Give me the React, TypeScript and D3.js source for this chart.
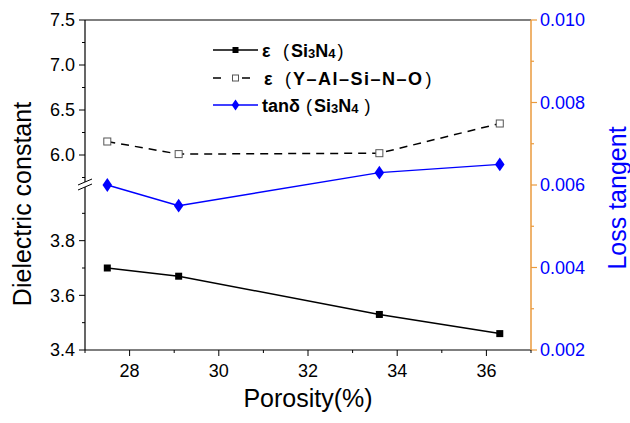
import { useEffect, useRef } from 'react';
import * as d3 from 'd3';

// Data
const porosity = [27.5, 29.1, 33.6, 36.3];
const epsSi3N4 = [3.70, 3.67, 3.53, 3.46];
const epsYAlSiNO = [6.15, 6.01, 6.02, 6.35];
const tanSi3N4 = [0.0060, 0.0055, 0.0063, 0.0065];

const xTicks = [28, 30, 32, 34, 36];
const xMinor = [27, 29, 31, 33, 35, 37];
const upperTicks = [6.0, 6.5, 7.0, 7.5];
const upperMinor = [5.75, 6.25, 6.75, 7.25];
const lowerTicks = [3.4, 3.6, 3.8];
const lowerMinor = [3.5, 3.7, 3.9];
const rightTicks = [0.002, 0.004, 0.006, 0.008, 0.010];
const rightMinor = [0.003, 0.005, 0.007, 0.009];

const FONT = 'Liberation Sans, Arial, sans-serif';
const BLUE = '#0000ff';
const ORANGE = '#ea9a3c';

const L = 85, R = 531, T = 20, B = 350;

type Piece = { s: string; sub?: boolean; thin?: boolean; x?: number; dx?: number; ls?: number };

export default function App() {
  const svgRef = useRef<SVGSVGElement>(null);

  useEffect(() => {
    document.body.style.margin = '0';
    if (!svgRef.current) return;
    const svg = d3.select(svgRef.current);
    svg.selectAll('*').remove();

    const x = d3.scaleLinear().domain([27, 37]).range([L, R]);
    // broken left axis: upper and lower segments
    const yUp = d3.scaleLinear().domain([5.7, 7.5]).range([182, T]);
    const yLow = d3.scaleLinear().domain([3.4, 4.0]).range([B, 186]);
    const yR = d3.scaleLinear().domain([0.002, 0.010]).range([B, T]);

    const g = svg.append('g');

    // ── Frame ────────────────────────────────────────────────────────────────
    g.append('line').attr('x1', L).attr('x2', R).attr('y1', T).attr('y2', T)
      .attr('stroke', '#000').attr('stroke-width', 1.2);
    g.append('line').attr('x1', L).attr('x2', R).attr('y1', B).attr('y2', B)
      .attr('stroke', '#000').attr('stroke-width', 1.2);
    g.append('line').attr('x1', L).attr('x2', L).attr('y1', T).attr('y2', 182)
      .attr('stroke', '#000').attr('stroke-width', 1.2);
    g.append('line').attr('x1', L).attr('x2', L).attr('y1', 187).attr('y2', B)
      .attr('stroke', '#000').attr('stroke-width', 1.2);
    g.append('line').attr('x1', R).attr('x2', R).attr('y1', T).attr('y2', B)
      .attr('stroke', ORANGE).attr('stroke-width', 1.5);

    // break marks
    [0, 5].forEach(dy => {
      g.append('line').attr('x1', L - 7).attr('y1', 185 + dy).attr('x2', L + 7).attr('y2', 179 + dy)
        .attr('stroke', '#000').attr('stroke-width', 1);
    });

    // ── Left ticks ──────────────────────────────────────────────────────────
    const leftTick = (y: number, len: number) =>
      g.append('line').attr('x1', L - len).attr('x2', L).attr('y1', y).attr('y2', y)
        .attr('stroke', '#000').attr('stroke-width', 1);
    const leftLabel = (y: number, v: number) =>
      g.append('text').attr('x', L - 10).attr('y', y).attr('dy', '0.35em')
        .attr('text-anchor', 'end').attr('font-family', FONT).attr('font-size', 18)
        .attr('fill', '#000').text(d3.format('.1f')(v));

    upperTicks.forEach(v => { leftTick(yUp(v), 6); leftLabel(yUp(v), v); });
    upperMinor.forEach(v => leftTick(yUp(v), 3));
    lowerTicks.forEach(v => { leftTick(yLow(v), 6); leftLabel(yLow(v), v); });
    lowerMinor.forEach(v => leftTick(yLow(v), 3));

    // ── Right ticks ─────────────────────────────────────────────────────────
    rightTicks.forEach(v => {
      g.append('line').attr('x1', R).attr('x2', R + 6).attr('y1', yR(v)).attr('y2', yR(v))
        .attr('stroke', ORANGE).attr('stroke-width', 1.2);
      g.append('text').attr('x', R + 9).attr('y', yR(v)).attr('dy', '0.35em')
        .attr('font-family', FONT).attr('font-size', 18).attr('fill', BLUE)
        .text(d3.format('.3f')(v));
    });
    rightMinor.forEach(v => {
      g.append('line').attr('x1', R).attr('x2', R + 3).attr('y1', yR(v)).attr('y2', yR(v))
        .attr('stroke', ORANGE).attr('stroke-width', 1.2);
    });

    // ── Bottom ticks ────────────────────────────────────────────────────────
    xTicks.forEach(v => {
      g.append('line').attr('x1', x(v)).attr('x2', x(v)).attr('y1', B).attr('y2', B + 6)
        .attr('stroke', '#000').attr('stroke-width', 1);
      g.append('text').attr('x', x(v)).attr('y', B + 21).attr('dy', '0.35em')
        .attr('text-anchor', 'middle').attr('font-family', FONT).attr('font-size', 18)
        .attr('fill', '#000').text(v);
    });
    xMinor.forEach(v => {
      g.append('line').attr('x1', x(v)).attr('x2', x(v)).attr('y1', B).attr('y2', B + 3)
        .attr('stroke', '#000').attr('stroke-width', 1);
    });

    // ── Axis titles ─────────────────────────────────────────────────────────
    g.append('text').attr('x', 308).attr('y', 407)
      .attr('text-anchor', 'middle').attr('font-family', FONT).attr('font-size', 25)
      .attr('fill', '#000').text('Porosity(%)');
    g.append('text').attr('transform', 'translate(31,204) rotate(-90)')
      .attr('text-anchor', 'middle').attr('font-family', FONT).attr('font-size', 25)
      .attr('fill', '#000').text('Dielectric constant');
    g.append('text').attr('transform', 'translate(626,198) rotate(-90)')
      .attr('text-anchor', 'middle').attr('font-family', FONT).attr('font-size', 25)
      .attr('fill', BLUE).text('Loss tangent');

    // ── Series ──────────────────────────────────────────────────────────────
    const idx = d3.range(porosity.length);
    const lineLow = d3.line<number>().x(i => x(porosity[i])).y(i => yLow(epsSi3N4[i]));
    const lineUp = d3.line<number>().x(i => x(porosity[i])).y(i => yUp(epsYAlSiNO[i]));
    const lineTan = d3.line<number>().x(i => x(porosity[i])).y(i => yR(tanSi3N4[i]));

    g.append('path').attr('d', lineLow(idx)).attr('fill', 'none')
      .attr('stroke', '#000').attr('stroke-width', 1.5);
    g.append('path').attr('d', lineUp(idx)).attr('fill', 'none')
      .attr('stroke', '#000').attr('stroke-width', 1.5).attr('stroke-dasharray', '8,6');
    g.append('path').attr('d', lineTan(idx)).attr('fill', 'none')
      .attr('stroke', BLUE).attr('stroke-width', 1.5);

    idx.forEach(i => {
      g.append('rect').attr('x', x(porosity[i]) - 3.5).attr('y', yLow(epsSi3N4[i]) - 3.5)
        .attr('width', 7).attr('height', 7).attr('fill', '#000');
      g.append('rect').attr('x', x(porosity[i]) - 3.5).attr('y', yUp(epsYAlSiNO[i]) - 3.5)
        .attr('width', 7).attr('height', 7).attr('fill', '#fff')
        .attr('stroke', '#555').attr('stroke-width', 1);
      g.append('path')
        .attr('d', d3.symbol(d3.symbolDiamond, 55)())
        .attr('transform', `translate(${x(porosity[i])},${yR(tanSi3N4[i])}) scale(1.2,1)`)
        .attr('fill', BLUE);
    });

    // ── Legend ──────────────────────────────────────────────────────────────
    const si3n4: Piece[] = [
      { s: 'Si' }, { s: '3', sub: true }, { s: 'N' }, { s: '4', sub: true },
    ];
    const legend: { y: number; color: string; dash: string | null; marker: string; label: Piece[] }[] = [
      { y: 50, color: '#000', dash: null, marker: 'fill',
        label: [{ s: 'ε', x: 262 }, { s: '(', thin: true, x: 283 }, { s: 'Si', dx: 2 }, ...si3n4.slice(1), { s: ')', thin: true, dx: 2 }] },
      { y: 78, color: '#000', dash: '8,21,8,100', marker: 'open',
        label: [{ s: 'ε', x: 264 }, { s: '(', thin: true, x: 285 }, { s: 'Y–Al–Si–N–O', dx: 2, ls: 1.5 }, { s: ')', thin: true, dx: 2 }] },
      { y: 105, color: BLUE, dash: null, marker: 'diamond',
        label: [{ s: 'tanδ', x: 262 }, { s: '(', thin: true, x: 306 }, { s: 'Si', dx: 2 }, ...si3n4.slice(1), { s: ')', thin: true, dx: 6 }] },
    ];
    const lx0 = 213, lx1 = 258;
    legend.forEach(d => {
      const ln = g.append('line').attr('x1', lx0).attr('x2', lx1).attr('y1', d.y).attr('y2', d.y)
        .attr('stroke', d.color).attr('stroke-width', 1.5);
      if (d.dash) ln.attr('stroke-dasharray', d.dash);
      const mx = (lx0 + lx1) / 2;
      if (d.marker === 'fill') {
        g.append('rect').attr('x', mx - 3).attr('y', d.y - 3).attr('width', 6).attr('height', 6)
          .attr('fill', '#000');
      } else if (d.marker === 'open') {
        g.append('rect').attr('x', mx - 3).attr('y', d.y - 3).attr('width', 6).attr('height', 6)
          .attr('fill', '#fff').attr('stroke', '#555').attr('stroke-width', 1);
      } else {
        g.append('path').attr('d', d3.symbol(d3.symbolDiamond, 35)())
          .attr('transform', `translate(${mx},${d.y}) scale(1.2,1)`).attr('fill', BLUE);
      }
      const t = g.append('text').attr('y', d.y + 6.5)
        .attr('font-family', FONT).attr('font-size', 18)
        .attr('font-weight', 'bold').attr('fill', '#000');
      let lowered = false;
      d.label.forEach(p => {
        const ts = t.append('tspan').text(p.s);
        if (p.x !== undefined) ts.attr('x', p.x);
        if (p.dx !== undefined) ts.attr('dx', p.dx);
        if (p.ls) ts.attr('letter-spacing', p.ls);
        if (p.thin) ts.attr('font-weight', 'normal');
        if (p.sub) {
          ts.attr('font-size', 13).attr('dy', lowered ? 0 : 1);
          lowered = true;
        } else {
          ts.attr('dy', lowered ? -1 : 0);
          lowered = false;
        }
      });
    });
  }, []);

  return (
    <svg ref={svgRef} width={630} height={423}
      style={{ display: 'block', background: '#fff' }} />
  );
}
